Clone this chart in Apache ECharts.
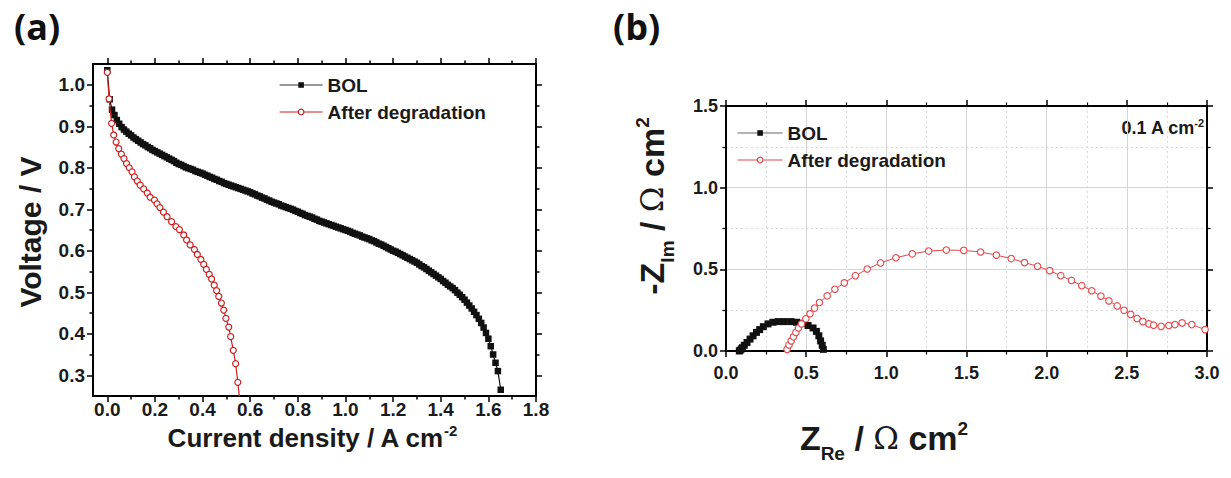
<!DOCTYPE html>
<html><head><meta charset="utf-8">
<script src="https://cdn.jsdelivr.net/npm/echarts@6/dist/echarts.min.js"></script>
<style>html,body{margin:0;padding:0;background:#fff}#c{width:1231px;height:478px}</style>
</head><body><div id="c"></div>
<script>
// ---------- Panel (a): polarization curves (current density in A cm-2, voltage in V) ----------
const bolJ = [0,0.01,0.02,0.03,0.04,0.05,0.06,0.07,0.08,0.09,0.10,0.11,0.12,0.13,0.14,0.15,0.16,0.17,0.18,0.19,0.20,0.21,0.22,0.23,0.24,0.25,0.26,0.27,0.28,0.29,0.30,0.31,0.32,0.33,0.34,0.35,0.36,0.37,0.38,0.39,0.40,0.41,0.42,0.43,0.44,0.45,0.46,0.47,0.48,0.49,0.50,0.51,0.52,0.53,0.54,0.55,0.56,0.57,0.58,0.59,0.60,0.61,0.62,0.63,0.64,0.65,0.66,0.67,0.68,0.69,0.70,0.71,0.72,0.73,0.74,0.75,0.76,0.77,0.78,0.79,0.80,0.81,0.82,0.83,0.84,0.85,0.86,0.87,0.88,0.89,0.90,0.91,0.92,0.93,0.94,0.95,0.96,0.97,0.98,0.99,1.00,1.01,1.02,1.03,1.04,1.05,1.06,1.07,1.08,1.09,1.10,1.11,1.12,1.13,1.14,1.15,1.16,1.17,1.18,1.19,1.20,1.21,1.22,1.23,1.24,1.25,1.26,1.27,1.28,1.29,1.30,1.31,1.32,1.33,1.34,1.35,1.36,1.37,1.38,1.39,1.40,1.41,1.42,1.43,1.44,1.45,1.46,1.47,1.48,1.49,1.50,1.51,1.52,1.53,1.54,1.55,1.56,1.57,1.58,1.59,1.60,1.61,1.62,1.63,1.64,1.652];
const bolV = [1.035,0.965,0.940,0.927,0.915,0.906,0.898,0.892,0.887,0.882,0.878,0.873,0.869,0.865,0.861,0.857,0.854,0.850,0.847,0.843,0.840,0.837,0.834,0.831,0.828,0.825,0.822,0.819,0.816,0.812,0.809,0.807,0.804,0.801,0.799,0.797,0.795,0.792,0.790,0.788,0.786,0.783,0.781,0.778,0.776,0.773,0.771,0.768,0.766,0.763,0.761,0.759,0.757,0.755,0.753,0.751,0.749,0.747,0.745,0.743,0.741,0.738,0.736,0.733,0.731,0.728,0.726,0.723,0.721,0.718,0.716,0.714,0.712,0.709,0.707,0.705,0.703,0.701,0.699,0.696,0.694,0.691,0.689,0.686,0.684,0.682,0.680,0.677,0.675,0.672,0.670,0.668,0.666,0.664,0.662,0.660,0.658,0.656,0.654,0.652,0.650,0.648,0.646,0.643,0.641,0.639,0.637,0.634,0.632,0.630,0.628,0.625,0.623,0.620,0.617,0.615,0.612,0.609,0.606,0.603,0.600,0.598,0.595,0.592,0.589,0.586,0.583,0.580,0.577,0.574,0.571,0.567,0.563,0.560,0.556,0.552,0.548,0.544,0.540,0.536,0.532,0.527,0.523,0.518,0.514,0.510,0.505,0.499,0.494,0.488,0.482,0.475,0.468,0.461,0.453,0.445,0.436,0.426,0.415,0.402,0.388,0.370,0.350,0.330,0.310,0.265];
const degJ = [0,0.0075,0.018,0.027,0.037,0.048,0.059,0.07,0.081,0.092,0.104,0.114,0.126,0.138,0.153,0.168,0.18,0.198,0.209,0.221,0.236,0.251,0.27,0.288,0.303,0.321,0.333,0.348,0.366,0.378,0.393,0.405,0.416,0.428,0.438,0.449,0.459,0.468,0.479,0.489,0.498,0.51,0.518,0.529,0.539,0.548,0.558];
const degV = [1.03,0.966,0.907,0.879,0.862,0.846,0.833,0.822,0.81,0.80,0.79,0.778,0.768,0.758,0.749,0.739,0.729,0.722,0.713,0.704,0.693,0.682,0.67,0.658,0.651,0.638,0.626,0.614,0.603,0.591,0.579,0.567,0.555,0.543,0.532,0.517,0.504,0.49,0.474,0.457,0.437,0.416,0.393,0.36,0.328,0.283,0.23];
const xTicksA = [0,0.2,0.4,0.6,0.8,1.0,1.2,1.4,1.6,1.8];
const xMinorA = [0.1,0.3,0.5,0.7,0.9,1.1,1.3,1.5,1.7];
const yTicksA = [0.3,0.4,0.5,0.6,0.7,0.8,0.9,1.0];
const yMinorA = [0.35,0.45,0.55,0.65,0.75,0.85,0.95];

// ---------- Panel (b): Nyquist plots at 0.1 A cm-2 (ohm cm2) ----------
const eisBolRe = [0.083,0.088,0.095,0.102,0.114,0.131,0.15,0.169,0.19,0.21,0.233,0.262,0.293,0.326,0.364,0.405,0.44,0.476,0.512,0.543,0.564,0.579,0.59,0.6,0.607];
const eisBolIm = [0.0,0.004,0.012,0.02,0.035,0.052,0.073,0.093,0.114,0.131,0.149,0.166,0.176,0.18,0.18,0.18,0.176,0.17,0.156,0.141,0.12,0.093,0.062,0.035,0.01];
const eisDegRe = [0.381,0.393,0.407,0.421,0.436,0.452,0.471,0.498,0.524,0.552,0.583,0.631,0.679,0.738,0.807,0.881,0.964,1.06,1.162,1.264,1.374,1.483,1.588,1.686,1.779,1.862,1.943,2.019,2.088,2.155,2.219,2.281,2.338,2.388,2.44,2.483,2.524,2.564,2.6,2.638,2.667,2.714,2.762,2.8,2.845,2.905,2.988];
const eisDegIm = [0.01,0.037,0.062,0.087,0.114,0.141,0.166,0.197,0.228,0.263,0.297,0.338,0.378,0.417,0.461,0.502,0.539,0.571,0.595,0.612,0.618,0.616,0.606,0.587,0.566,0.541,0.519,0.492,0.461,0.432,0.400,0.369,0.336,0.307,0.276,0.249,0.224,0.199,0.18,0.166,0.158,0.151,0.156,0.162,0.172,0.162,0.131];

const zip = (a, b) => a.map((v, i) => [v, b[i]]);
const FF = '"Liberation Sans", Arial, Helvetica, sans-serif';
const BLACK = '#111111';
const RED_A = '#cc1f1f';
const RED_B = '#e5484a';

function frameAxis(gi, pos, min, max, opts) {
  return {
    gridIndex: gi, type: 'value', position: pos, min: min, max: max,
    interval: opts.interval,
    axisLine: { show: opts.line !== false, onZero: false, lineStyle: { color: '#000', width: 2 } },
    axisTick: Object.assign({ show: true, length: opts.tickLen || 6, lineStyle: { color: '#000', width: 1.5 } },
      opts.ticks ? { customValues: opts.ticks } : {}),
    minorTick: { show: !!opts.minor, splitNumber: 2, length: 3.5, lineStyle: { color: '#000', width: 1.2 } },
    axisLabel: opts.labels ? Object.assign({
      show: true, fontFamily: FF, fontWeight: 'bold', fontSize: opts.fs || 18, color: '#1a1a1a',
      margin: opts.margin || 8, formatter: v => (+v).toFixed(1)
    }, opts.ticks ? { customValues: opts.ticks } : {}) : { show: false },
    splitLine: opts.split ? { show: true, lineStyle: { color: '#d4d4d4', width: 1 } } : { show: false },
    minorSplitLine: opts.split ? { show: true, lineStyle: { color: '#dadada', width: 1, type: [2, 3] } } : { show: false }
  };
}

const xAxes = [
  frameAxis(0, 'bottom', -0.06, 1.8, { ticks: xTicksA, labels: true, fs: 19, margin: 4 }),
  frameAxis(0, 'bottom', -0.06, 1.8, { ticks: xMinorA, line: false, tickLen: 3.5 }),
  frameAxis(0, 'top', -0.06, 1.8, { ticks: xTicksA }),
  frameAxis(0, 'top', -0.06, 1.8, { ticks: xMinorA, line: false, tickLen: 3.5 }),
  frameAxis(1, 'bottom', 0, 3, { interval: 0.5, labels: true, minor: true, split: true, fs: 18, margin: 13 }),
  frameAxis(1, 'top', 0, 3, { interval: 0.5, minor: true })
];
const yAxes = [
  frameAxis(0, 'left', 0.25, 1.05, { ticks: yTicksA, labels: true, fs: 19, margin: 8 }),
  frameAxis(0, 'left', 0.25, 1.05, { ticks: yMinorA, line: false, tickLen: 3.5 }),
  frameAxis(0, 'right', 0.25, 1.05, { ticks: yTicksA }),
  frameAxis(0, 'right', 0.25, 1.05, { ticks: yMinorA, line: false, tickLen: 3.5 }),
  frameAxis(1, 'left', 0, 1.5, { interval: 0.5, labels: true, minor: true, split: true, fs: 18, margin: 8 }),
  frameAxis(1, 'right', 0, 1.5, { interval: 0.5, minor: true })
];

const titleStyle = (text, rich, extra) => Object.assign({
  text: text, rich: rich, fill: '#1a1a1a', fontFamily: FF, fontWeight: 'bold',
  align: 'center', verticalAlign: 'middle'
}, extra || {});

const mk = (size, lh, extra) => Object.assign({ fontSize: size, fontWeight: 'bold', fontFamily: FF, fill: '#1a1a1a', lineHeight: lh }, extra || {});
const richAx = { m: mk(26, 30), p: mk(15, 30, { verticalAlign: 'top' }) };
const richAy = { m: mk(30, 34) };
const richB = {
  m: mk(34, 38),
  s: mk(19, 38, { verticalAlign: 'bottom', padding: [0, 0, -6, 0] }),
  o: mk(31, 38, { fontWeight: 'normal', fontFamily: '"DejaVu Serif", "Liberation Serif", serif' }),
  p: mk(19, 38, { verticalAlign: 'top' })
};
const richN = { m: mk(18, 22), p: mk(11, 22, { verticalAlign: 'top' }) };

const legendText = { fontFamily: FF, fontWeight: 'bold', fontSize: 19, color: '#1a1a1a', lineHeight: 20 };

const option = {
  animation: false,
  backgroundColor: '#ffffff',
  grid: [
    { left: 93, top: 64, width: 443, height: 332, containLabel: false },
    { left: 726, top: 106, width: 481, height: 245, containLabel: false }
  ],
  xAxis: xAxes,
  yAxis: yAxes,
  legend: [
    {
      left: 279, top: 75, padding: 0, orient: 'vertical', itemWidth: 43, itemGap: 7, itemHeight: 7,
      textStyle: legendText,
      data: [
        { name: 'BOL', itemStyle: { color: BLACK, borderColor: BLACK }, lineStyle: { color: '#333', width: 1.2 } },
        { name: 'After degradation', itemStyle: { color: '#fff', borderColor: RED_A, borderWidth: 1.2 }, lineStyle: { color: RED_A, width: 1.2 } }
      ]
    },
    {
      left: 737, top: 123, padding: 0, orient: 'vertical', itemWidth: 45, itemGap: 7, itemHeight: 7,
      textStyle: legendText,
      data: [
        { name: 'BOL', itemStyle: { color: BLACK, borderColor: BLACK }, lineStyle: { color: '#666', width: 1.2 } },
        { name: 'After degradation', itemStyle: { color: '#fff', borderColor: RED_B, borderWidth: 1.2 }, lineStyle: { color: RED_B, width: 1.2 } }
      ]
    }
  ],
  graphic: [
    { type: 'text', left: 14, top: 8, style: { text: '(a)', fontFamily: '"Open Sans", "Liberation Sans", sans-serif', fontWeight: 'bold', fontSize: 36, fill: '#111' } },
    { type: 'text', left: 613, top: 8, style: { text: '(b)', fontFamily: '"Open Sans", "Liberation Sans", sans-serif', fontWeight: 'bold', fontSize: 36, fill: '#111' } },
    { type: 'text', x: 312, y: 438, style: titleStyle('{m|Current density / A cm}{p|-2}', richAx) },
    { type: 'text', x: 30, y: 232, rotation: Math.PI / 2, style: titleStyle('{m|Voltage / V}', richAy) },
    { type: 'text', x: 652, y: 206, rotation: Math.PI / 2, style: titleStyle('{m|-Z}{s|Im}{m| / }{o|Ω}{m| cm}{p|2}', richB) },
    { type: 'text', x: 884, y: 438, style: titleStyle('{m|Z}{s|Re}{m| / }{o|Ω}{m| cm}{p|2}', richB) },
    { type: 'text', x: 1204, y: 128, style: titleStyle('{m|0.1 A cm}{p|-2}', richN, { align: 'right' }) }
  ],
  series: [
    {
      name: 'BOL', type: 'line', xAxisIndex: 0, yAxisIndex: 0, data: zip(bolJ, bolV),
      symbol: 'rect', symbolSize: 6.5, itemStyle: { color: BLACK }, lineStyle: { color: BLACK, width: 1.2 },
      clip: true, z: 3
    },
    {
      name: 'After degradation', type: 'line', xAxisIndex: 0, yAxisIndex: 0, data: zip(degJ, degV),
      symbol: 'circle', symbolSize: 6, itemStyle: { color: '#fff', borderColor: RED_A, borderWidth: 1.2 },
      lineStyle: { color: RED_A, width: 1.2 }, clip: true, z: 4
    },
    {
      name: 'BOL', type: 'line', xAxisIndex: 4, yAxisIndex: 4, data: zip(eisBolRe, eisBolIm),
      symbol: 'rect', symbolSize: 7, itemStyle: { color: BLACK }, lineStyle: { color: '#333', width: 1 },
      clip: true, z: 3
    },
    {
      name: 'After degradation', type: 'line', xAxisIndex: 4, yAxisIndex: 4, data: zip(eisDegRe, eisDegIm),
      symbol: 'circle', symbolSize: 6.5, itemStyle: { color: '#fff', borderColor: RED_B, borderWidth: 1.1 },
      lineStyle: { color: RED_B, width: 1 }, clip: true, z: 4
    }
  ]
};

const chart = echarts.init(document.getElementById('c'), null, { renderer: 'svg' });
chart.setOption(option);
</script>
</body></html>
